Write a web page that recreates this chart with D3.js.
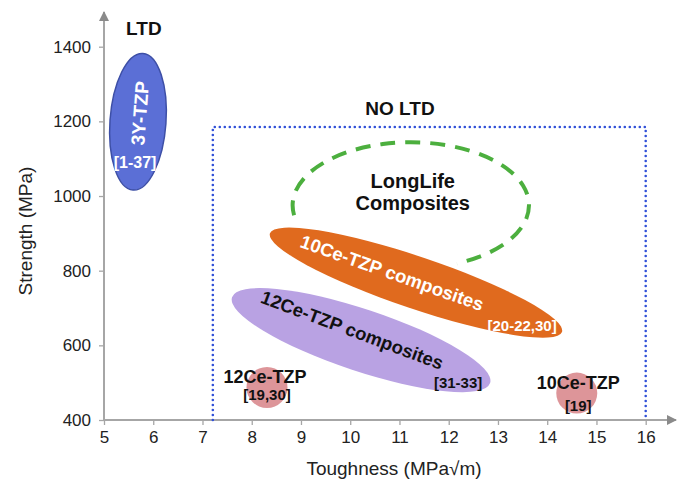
<!DOCTYPE html>
<html><head><meta charset="utf-8">
<script src="https://cdn.jsdelivr.net/npm/d3@7"></script>
<style>
body{margin:0;background:#fff;}
text{font-family:"Liberation Sans",Arial,sans-serif;}
</style></head>
<body><svg id="c" width="684" height="480"></svg>
<script>
// ---- data ----
const xTicks = [5,6,7,8,9,10,11,12,13,14,15,16];
const yTicks = [400,600,800,1000,1200,1400];
// elongated regions: tips of the major axis in (toughness, strength)
const regionNames = ["3Y-TZP","10Ce-TZP composites","12Ce-TZP composites"];
const regionTipA = [[5.79,1382],[8.37,900],[7.60,729]];
const regionTipB = [[5.59,1016],[14.30,636],[12.84,499]];
// single-material spots
const spotNames = ["12Ce-TZP","10Ce-TZP"];
const spotToughness = [8.31,14.60];
const spotStrength = [487,472];
// LongLife target zone (centre, semi-axes in data units)
const targetCenter = [11.23,975];
const targetRadii = [2.40,169];
// NO LTD domain
const noLtdX = [7.21,16];
const noLtdY = [400,1185];

const svg = d3.select("#c");
const x = d3.scaleLinear().domain([5,16]).range([104,645.7]);
const y = d3.scaleLinear().domain([400,1400]).range([420,46.7]);
const axisCol = "#a6a6a6";

const defs = svg.append("defs");
defs.append("marker").attr("id","arr").attr("viewBox","0 0 10 10").attr("refX",9).attr("refY",5)
 .attr("markerWidth",5).attr("markerHeight",5).attr("orient","auto")
 .append("path").attr("d","M0,0L10,5L0,10Z").attr("fill","#8a8a8a");

// axes
svg.append("line").attr("x1",x(5)).attr("x2",676).attr("y1",y(400)).attr("y2",y(400))
 .attr("stroke",axisCol).attr("stroke-width",2).attr("marker-end","url(#arr)");
svg.append("line").attr("x1",x(5)).attr("x2",x(5)).attr("y1",y(400)).attr("y2",12)
 .attr("stroke",axisCol).attr("stroke-width",2).attr("marker-end","url(#arr)");

const xa = svg.append("g").attr("transform",`translate(0,${y(400)})`)
 .call(d3.axisBottom(x).tickValues(xTicks).tickSize(5).tickPadding(6).tickFormat(d3.format("d")));
xa.select(".domain").remove();
xa.selectAll("line").attr("stroke",axisCol).attr("stroke-width",1.3);
xa.selectAll("text").attr("font-size",17).attr("fill","#222");

const ya = svg.append("g").attr("transform",`translate(${x(5)},0)`)
 .call(d3.axisLeft(y).tickValues(yTicks).tickSize(5).tickPadding(8).tickFormat(d3.format("d")));
ya.select(".domain").remove();
ya.selectAll("line").attr("stroke",axisCol).attr("stroke-width",1.3);
ya.selectAll("text").attr("font-size",17).attr("fill","#222");

svg.append("text").attr("x",394).attr("y",475).attr("text-anchor","middle")
 .attr("font-size",19).attr("fill","#222").text("Toughness (MPa√m)");
svg.append("text").attr("transform","translate(32,231) rotate(-90)").attr("text-anchor","middle")
 .attr("font-size",19).attr("fill","#222").text("Strength (MPa)");

// NO LTD dotted box
svg.append("path")
 .attr("d",`M${x(noLtdX[0])},${y(noLtdY[0])}V${y(noLtdY[1])}H${x(noLtdX[1])}V${y(noLtdY[0])}`)
 .attr("fill","none").attr("stroke","#3050d8").attr("stroke-width",2.6)
 .attr("stroke-dasharray","0 5").attr("stroke-linecap","round");

// LongLife dashed zone (open arc)
const t0 = 189*Math.PI/180, t1 = -67*Math.PI/180;
const pA = [x(targetCenter[0]+targetRadii[0]*Math.cos(t0)), y(targetCenter[1]+targetRadii[1]*Math.sin(t0))];
const pB = [x(targetCenter[0]+targetRadii[0]*Math.cos(t1)), y(targetCenter[1]+targetRadii[1]*Math.sin(t1))];
const rxp = x(targetCenter[0]+targetRadii[0])-x(targetCenter[0]);
const ryp = y(targetCenter[1])-y(targetCenter[1]+targetRadii[1]);
svg.append("path").attr("d",`M${pA[0]},${pA[1]}A${rxp},${ryp} 0 1 1 ${pB[0]},${pB[1]}`)
 .attr("fill","none").attr("stroke","#4caf3e").attr("stroke-width",4).attr("stroke-dasharray","15 10");

// regions
const regStyle = [
 {fill:"#5b6fd6",stroke:"#3d4fa6",minor:28},
 {fill:"#e06a1e",stroke:"none",minor:26},
 {fill:"#b9a2e3",stroke:"none",minor:31}
];
[2,1,0].forEach(i=>{
  const ax = x(regionTipA[i][0]), ay = y(regionTipA[i][1]);
  const bx = x(regionTipB[i][0]), by = y(regionTipB[i][1]);
  const cx=(ax+bx)/2, cy=(ay+by)/2;
  const len = Math.hypot(bx-ax,by-ay)/2;
  const ang = Math.atan2(by-ay,bx-ax)*180/Math.PI;
  svg.append("ellipse").attr("cx",0).attr("cy",0).attr("rx",len).attr("ry",regStyle[i].minor)
   .attr("transform",`translate(${cx},${cy}) rotate(${ang})`)
   .attr("fill",regStyle[i].fill).attr("stroke",regStyle[i].stroke).attr("stroke-width",1.5);
});

// spots
spotNames.forEach((n,i)=>{
  svg.append("circle").attr("cx",x(spotToughness[i])).attr("cy",y(spotStrength[i])).attr("r",20.5)
   .attr("fill","#d98a8e").attr("opacity",0.9);
});

// labels (anchors in data coordinates)
function lab(tx,ty,str,opt){
  const t = svg.append("text").attr("text-anchor","middle").attr("font-weight","bold")
   .attr("font-size",opt.size).attr("fill",opt.fill||"#111").text(str);
  if(opt.rot!==undefined){
    t.attr("transform",`translate(${x(tx)},${y(ty)}) rotate(${opt.rot})`).attr("dy","0.35em");
  } else t.attr("x",x(tx)).attr("y",y(ty));
}
lab(5.81,1431,"LTD",{size:19});
lab(11.01,1217,"NO LTD",{size:19});
lab(11.27,1021,"LongLife",{size:20});
lab(11.27,963,"Composites",{size:20});
lab(5.73,1222,regionNames[0],{size:19,fill:"#fff",rot:-86});
lab(5.63,1075,"[1-37]",{size:16,fill:"#fff"});
lab(10.85,794,regionNames[1],{size:18.5,fill:"#fff",rot:19.5});
lab(13.49,638,"[20-22,30]",{size:15,fill:"#fff"});
lab(10.04,641,regionNames[2],{size:18.5,fill:"#111",rot:20.5});
lab(12.19,487,"[31-33]",{size:15});
lab(8.27,499,spotNames[0],{size:18});
lab(8.31,454,"[19,30]",{size:15});
lab(14.63,483,spotNames[1],{size:18});
lab(14.63,424,"[19]",{size:15});
</script></body></html>
